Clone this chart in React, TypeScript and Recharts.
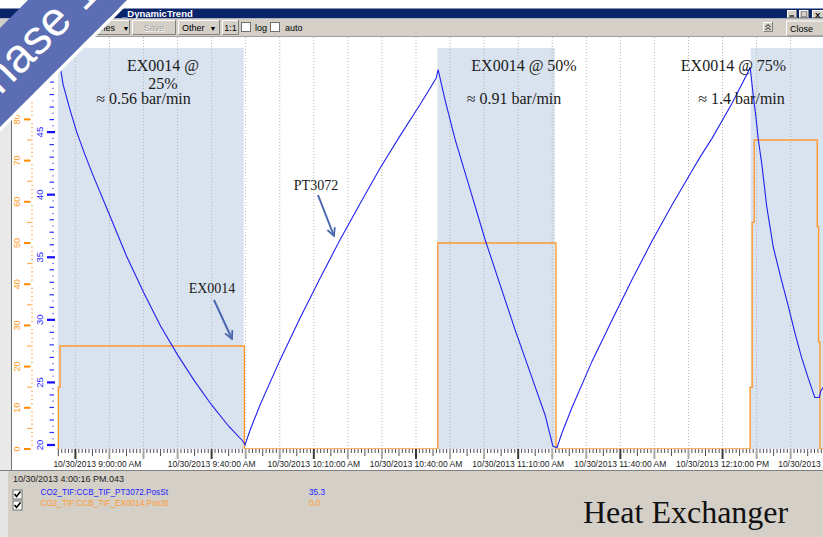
import React from 'react';
import { LineChart, Line, XAxis, YAxis, ReferenceArea, ReferenceLine } from 'recharts';

// time axis: minutes after 10/30/2013 9:00:00 AM
const pressureTime = [-5.0, -4.5, -3.6, -1.6, 0.4, 2.8, 4.8, 10, 15, 20, 25, 30, 35, 40, 45, 49.2, 49.8, 51.3, 54.2, 60.1, 65.9, 71.8, 77.7, 83.6, 89.4, 95.3, 101.2, 105.9, 106.5, 108.5, 111.5, 115.9, 120.3, 124.7, 129.1, 133.5, 137.9, 140.2, 141.4, 142.9, 145.8, 151.7, 157.6, 163.4, 169.3, 175.2, 181.0, 183.4, 186.9, 192.8, 197.5, 198.1, 198.9, 199.8, 200.5, 201.5, 203.0, 204.9, 206.9, 209.3, 211.3, 213.2, 215.2, 217.1, 218.4, 218.8, 219.5];
// PT3072 pressure (bar)
const pressureBar = [50.6, 50.3, 48.8, 46.8, 45.0, 43.2, 41.8, 38.4, 35.1, 32.2, 29.5, 27.2, 25.1, 23.2, 21.5, 20.3, 20.0, 21.2, 23.2, 26.8, 30.1, 33.3, 36.4, 39.3, 42.1, 44.7, 47.2, 49.3, 50.0, 47.6, 44.4, 40.4, 36.4, 32.8, 29.2, 25.8, 22.4, 19.9, 19.8, 21.0, 23.0, 26.7, 30.0, 33.2, 36.3, 39.2, 41.9, 43.0, 44.5, 47.3, 49.8, 50.2, 48.2, 46.2, 44.4, 42.5, 39.0, 35.8, 33.6, 31.1, 28.9, 27.0, 25.3, 23.8, 23.8, 24.3, 24.6];

// EX0014 valve position (%)
const valveTime = [-5.4, -5.0, -4.5, 49.6, 106.4, 141.1, 198.1, 198.7, 199.3, 217.8, 218.2, 218.6, 219.5];
const valvePct = [0, 15, 25, 0, 50, 0, 15, 55, 75, 54, 26, 0, 0];

// heat exchanger active periods (shaded)
const activeStart = [-5.1, 106.3, 198.3];
const activeEnd = [49.4, 140.8, 242.1];

const xTickTimes = [0, 40, 70, 100, 130, 160, 190, 220];
const xTickLabels = [
  '10/30/2013 9:00:00 AM',
  '10/30/2013 9:40:00 AM',
  '10/30/2013 10:10:00 AM',
  '10/30/2013 10:40:00 AM',
  '10/30/2013 11:10:00 AM',
  '10/30/2013 11:40:00 AM',
  '10/30/2013 12:10:00 PM',
  '10/30/2013 12:40:00 PM',
];

const X_DOMAIN: [number, number] = [-5.4, 242.1];
const minuteTicks = Array.from({ length: 248 }, (_, i) => i - 5);
const gridTimes = Array.from({ length: 25 }, (_, i) => i * 10);
const pctTicks = Array.from({ length: 101 }, (_, i) => i);
const barTicks = Array.from({ length: 66 }, (_, i) => 20 + i * 0.5);

const pressureData = pressureTime.map((t, i) => ({ t, v: pressureBar[i] }));
const valveData = valveTime.map((t, i) => ({ t, v: valvePct[i] }));

const UI_FONT = '"Liberation Sans", Arial, sans-serif';
const SERIF = '"Liberation Serif", "Times New Roman", serif';
const BLUE = '#2222ee';
const ORANGE = '#ff9a30';

function XTick(props: any) {
  const { x, payload } = props;
  const t = payload.value;
  const top = 449;
  const idx = xTickTimes.indexOf(t);
  if (idx >= 0) {
    return (
      <g>
        <line x1={x} x2={x} y1={top} y2={top + 10} stroke="#3a3a3a" strokeWidth={2} />
        <text x={idx === 0 ? x - 22 : x} y={467} textAnchor={idx === 0 ? 'start' : 'middle'} fontSize={8.5} fontFamily={UI_FONT} fill="#222">
          {xTickLabels[idx]}
        </text>
      </g>
    );
  }
  if (t % 10 === 0) return <line x1={x} x2={x} y1={top} y2={top + 10} stroke="#a8a8a8" strokeWidth={2} />;
  if (t % 5 === 0) return <line x1={x} x2={x} y1={top} y2={top + 7} stroke="#505050" strokeWidth={1} />;
  return <line x1={x} x2={x} y1={top} y2={top + 4} stroke="#505050" strokeWidth={1} />;
}

function PctTick(props: any) {
  const { y, payload } = props;
  const v = payload.value;
  if (v % 10 === 0) {
    return (
      <g>
        <line x1={24} x2={30.5} y1={y} y2={y} stroke="#ff8a00" strokeWidth={2} />
        <text transform={`translate(20,${y}) rotate(-90)`} textAnchor="middle" fontSize={9} fontFamily={UI_FONT} fill="#ff9a20">
          {v}
        </text>
      </g>
    );
  }
  if (v % 5 === 0) return <line x1={27} x2={32.5} y1={y} y2={y} stroke="#ffa040" strokeWidth={1} />;
  return <line x1={31} x2={33} y1={y} y2={y} stroke="#ffb060" strokeWidth={1} />;
}

function BarTick(props: any) {
  const { y, payload } = props;
  const v = payload.value;
  if (v % 5 === 0) {
    return (
      <g>
        <line x1={47} x2={55} y1={y} y2={y} stroke="#1010ff" strokeWidth={2.2} />
        <text transform={`translate(42.5,${y}) rotate(-90)`} textAnchor="middle" fontSize={9.5} fontFamily={UI_FONT} fill="#2a2aff">
          {v}
        </text>
      </g>
    );
  }
  if (v % 1 === 0) return <line x1={49.5} x2={54} y1={y} y2={y} stroke="#3030ff" strokeWidth={1.2} />;
  return <line x1={52} x2={54} y1={y} y2={y} stroke="#8080ff" strokeWidth={1} />;
}

function Btn({ x, y, w, h }: { x: number; y: number; w: number; h: number }) {
  return (
    <g>
      <rect x={x} y={y} width={w} height={h} fill="#d4d0c8" />
      <path d={`M${x + 0.5},${y + h} V${y + 0.5} H${x + w}`} stroke="#ffffff" fill="none" />
      <path d={`M${x + 0.5},${y + h - 0.5} H${x + w - 0.5} V${y}`} stroke="#808080" fill="none" />
    </g>
  );
}

function CheckBox({ x, y, checked }: { x: number; y: number; checked?: boolean }) {
  return (
    <g>
      <rect x={x + 0.5} y={y + 0.5} width={9} height={9} fill="#fff" stroke="#707070" />
      {checked && <path d={`M${x + 2},${y + 4.5} L${x + 4},${y + 7} L${x + 8},${y + 2}`} stroke="#000" strokeWidth={1.6} fill="none" />}
    </g>
  );
}

function Chrome() {
  return (
    <svg width={823} height={537} style={{ position: 'absolute', left: 0, top: 0 }}>
      <rect x={0} y={0} width={823} height={537} fill="#ffffff" />
      {/* title bar */}
      <rect x={0} y={8.5} width={823} height={10} fill="#0a246a" />
      <text x={122} y={17} fontSize={9.5} fontWeight="bold" fontFamily={UI_FONT} fill="#ffffff">_DynamicTrend</text>
      <Btn x={787} y={10} w={10} h={8} />
      <Btn x={799} y={10} w={10} h={8} />
      <Btn x={812} y={10} w={12} h={8} />
      <line x1={789.5} x2={794} y1={16} y2={16} stroke="#000" strokeWidth={1.2} />
      <rect x={801.5} y={11.5} width={5} height={5} fill="none" stroke="#909090" />
      <text x={815} y={17.5} fontSize={8} fontWeight="bold" fontFamily={UI_FONT} fill="#000">X</text>
      {/* toolbar */}
      <rect x={0} y={18.5} width={823} height={17.5} fill="#d4d0c8" />
      <Btn x={60} y={20} w={70} h={15} />
      <text x={115} y={31} textAnchor="end" fontSize={9} fontFamily={UI_FONT} fill="#000">Series</text>
      <text x={126} y={30.5} textAnchor="middle" fontSize={7} fontFamily={UI_FONT} fill="#000">▼</text>
      <Btn x={132} y={20} w={44} h={15} />
      <text x={154.5} y={31.5} textAnchor="middle" fontSize={9} fontFamily={UI_FONT} fill="#ffffff">Save</text>
      <text x={154} y={31} textAnchor="middle" fontSize={9} fontFamily={UI_FONT} fill="#a0a0a0">Save</text>
      <Btn x={178} y={20} w={42} h={15} />
      <text x={182} y={31} fontSize={9} fontFamily={UI_FONT} fill="#000">Other</text>
      <text x={213} y={30.5} textAnchor="middle" fontSize={7} fontFamily={UI_FONT} fill="#000">▼</text>
      <Btn x={222} y={20} w={17} h={15} />
      <text x={230.5} y={31} textAnchor="middle" fontSize={9} fontFamily={UI_FONT} fill="#000">1:1</text>
      <CheckBox x={241} y={22} />
      <text x={255} y={31} fontSize={9} fontFamily={UI_FONT} fill="#000">log</text>
      <CheckBox x={270} y={22} />
      <text x={285} y={31} fontSize={9} fontFamily={UI_FONT} fill="#000">auto</text>
      <Btn x={763} y={22} w={10} h={10} />
      <path d="M765.5,27 L768,24.5 L770.5,27 M765.5,30 L768,27.5 L770.5,30" stroke="#000" fill="none" strokeWidth={0.9} />
      <Btn x={786} y={20.5} w={45} h={16} />
      <text x={790} y={32} fontSize={9} fontFamily={UI_FONT} fill="#000">Close</text>
      <line x1={0} x2={823} y1={36.5} y2={36.5} stroke="#a0a0a0" />
      {/* left margin */}
      <rect x={0} y={37} width={11} height={433} fill="#e9e9e9" />
      <line x1={11.5} x2={11.5} y1={37} y2={470} stroke="#707070" />
      {/* bottom panel */}
      <line x1={0} x2={823} y1={470.5} y2={470.5} stroke="#808080" />
      <rect x={0} y={471} width={823} height={66} fill="#d4d0c8" />
      <rect x={0} y={471} width={8} height={66} fill="#e6e6e6" />
      <text x={13} y={482} fontSize={9} fontFamily={UI_FONT} fill="#222">10/30/2013 4:00:16 PM.043</text>
      <CheckBox x={12.5} y={489.5} checked />
      <CheckBox x={12.5} y={500.5} checked />
      <text x={40.5} y={495} fontSize={8.2} fontFamily={UI_FONT} fill="#2020ff">CO2_TIF:CCB_TIF_PT3072.PosSt</text>
      <text x={309} y={495} fontSize={8.2} fontFamily={UI_FONT} fill="#2020ff">35.3</text>
      <text x={40.5} y={506} fontSize={8.2} fontFamily={UI_FONT} fill="#ff9a30">CO2_TIF:CCB_TIF_EX0014.PosSt</text>
      <text x={309} y={506} fontSize={8.2} fontFamily={UI_FONT} fill="#ff9a30">0.0</text>
    </svg>
  );
}

function Overlay() {
  const arrowColor = '#4a68ad';
  return (
    <svg width={823} height={537} style={{ position: 'absolute', left: 0, top: 0, pointerEvents: 'none' }}>
      <defs>
        <marker id="arr" viewBox="0 0 10 10" refX={9} refY={5} markerWidth={5} markerHeight={5} orient="auto">
          <path d="M1,1 L9,5 L1,9" fill="none" stroke={arrowColor} strokeWidth={1.8} />
        </marker>
      </defs>
      <g fontFamily={SERIF} fill="#1a1a1a" fontSize={16} textAnchor="middle">
        <text x={163} y={71}>EX0014 @</text>
        <text x={163} y={89}>25%</text>
        <text x={143.5} y={104}>≈ 0.56 bar/min</text>
        <text x={524} y={71}>EX0014 @ 50%</text>
        <text x={514} y={104}>≈ 0.91 bar/min</text>
        <text x={733.5} y={71}>EX0014 @ 75%</text>
        <text x={741.5} y={104}>≈ 1.4 bar/min</text>
        <text x={316} y={190} fontSize={14}>PT3072</text>
        <text x={212} y={293} fontSize={14}>EX0014</text>
      </g>
      <line x1={318} y1={195} x2={334} y2={236} stroke={arrowColor} strokeWidth={2} markerEnd="url(#arr)" />
      <line x1={214} y1={300} x2={232} y2={339} stroke={arrowColor} strokeWidth={2} markerEnd="url(#arr)" />
      <text x={583} y={523} fontSize={32} fontFamily={SERIF} fill="#111">Heat Exchanger</text>
      {/* corner banner */}
      <polygon points="127,0 132,0 0,132 0,127" fill="#ffffff" />
      <polygon points="28,0 127,0 0,127 0,28" fill="#5b6db3" />
      <text transform="translate(40,56) rotate(-45)" textAnchor="middle" fontSize={48} fontFamily={UI_FONT} fill="#ffffff">Phase 1</text>
    </svg>
  );
}

export default function App() {
  return (
    <div style={{ position: 'fixed', left: 0, top: 0, width: 823, height: 537, overflow: 'hidden', background: '#fff' }}>
      <Chrome />
      <div style={{ position: 'absolute', left: 0, top: 0 }}>
        <LineChart width={900} height={472} margin={{ top: 37, right: 0, bottom: 0, left: 0 }} style={{ background: 'transparent' }}>
          <XAxis dataKey="t" type="number" domain={X_DOMAIN} allowDataOverflow ticks={minuteTicks} interval={0} tick={<XTick />} tickLine={false} axisLine={false} height={23} />
          <YAxis yAxisId="b" type="number" domain={[19.68, 52.6]} allowDataOverflow ticks={barTicks} interval={0} tick={<BarTick />} tickLine={false} axisLine={false} width={22} />
          <YAxis yAxisId="o" type="number" domain={[0, 100]} allowDataOverflow ticks={pctTicks} interval={0} tick={<PctTick />} tickLine={false} axisLine={false} width={35} />
          {activeStart.map((s, i) => (
            <ReferenceArea key={'a' + i} yAxisId="o" x1={s} x2={activeEnd[i]} y1={0} y2={97.3} fill="#d9e2ef" fillOpacity={1} stroke="none" ifOverflow="hidden" />
          ))}
          {gridTimes.map((g) => (
            <ReferenceLine key={'g' + g} yAxisId="o" x={g} stroke="#b4b4b4" strokeDasharray="1 2" ifOverflow="hidden" />
          ))}
          <Line yAxisId="o" data={valveData} dataKey="v" type="stepAfter" stroke={ORANGE} strokeWidth={1.4} dot={false} isAnimationActive={false} />
          <Line yAxisId="b" data={pressureData} dataKey="v" type="linear" stroke={BLUE} strokeWidth={1.1} dot={false} isAnimationActive={false} />
        </LineChart>
      </div>
      <Overlay />
    </div>
  );
}
